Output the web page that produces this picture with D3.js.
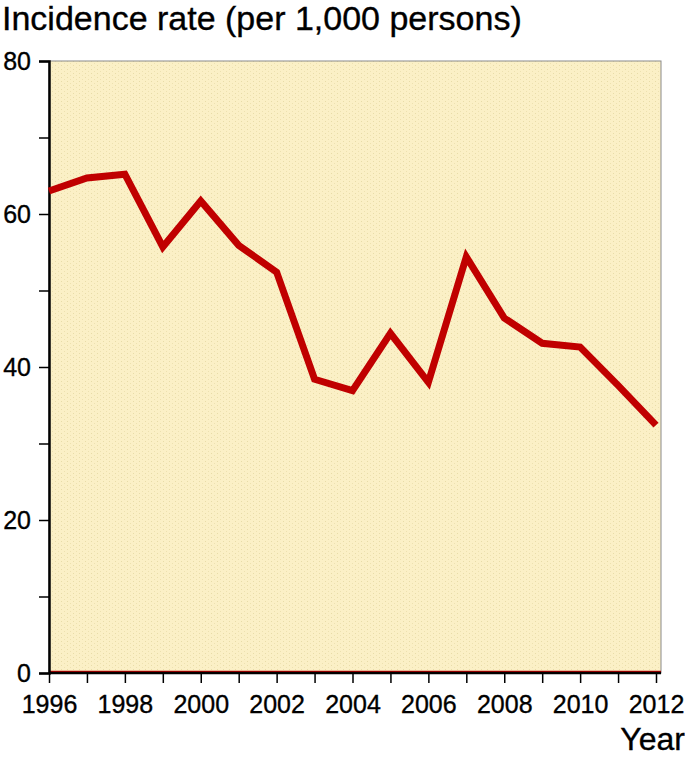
<!DOCTYPE html>
<html>
<head>
<meta charset="utf-8">
<script src="https://cdn.jsdelivr.net/npm/d3@7"></script>
<style>
  body { margin: 0; background: #fff; }
  svg text { font-family: "Liberation Sans", Arial, Helvetica, sans-serif; fill: #000; stroke: #000; stroke-width: 0.35px; }
  .axis path, .axis line { stroke: #000; }
</style>
</head>
<body>
<div id="chart"></div>
<script>
var years = [1996, 1997, 1998, 1999, 2000, 2001, 2002, 2003, 2004, 2005, 2006, 2007, 2008, 2009, 2010, 2011, 2012]
var rates = [63.0, 64.7, 65.2, 55.7, 61.7, 55.9, 52.4, 38.4, 36.9, 44.4, 38.0, 54.4, 46.4, 43.1, 42.6, 37.6, 32.4]
var yMajor = [0, 20, 40, 60, 80]
var yMinor = [10, 30, 50, 70]
var xLabels = [1996, 1998, 2000, 2002, 2004, 2006, 2008, 2010, 2012]

var width = 685, height = 760
var plotLeft = 49, plotTop = 61, plotRight = 661, plotBottom = 673

var svg = d3.select("#chart").append("svg")
  .attr("width", width)
  .attr("height", height)

var x = d3.scaleLinear().domain([1996, 2012]).range([plotLeft, 656])
var y = d3.scaleLinear().domain([0, 80]).range([plotBottom, plotTop])

// textured background
var defs = svg.append("defs")
var pat = defs.append("pattern")
  .attr("id", "grain")
  .attr("width", 6)
  .attr("height", 4)
  .attr("patternUnits", "userSpaceOnUse")
pat.append("rect").attr("width", 6).attr("height", 4).attr("fill", "#fbf0c6")
pat.append("rect").attr("x", 1).attr("y", 1).attr("width", 1).attr("height", 1).attr("fill", "#e8dca8")
pat.append("rect").attr("x", 4).attr("y", 3).attr("width", 1).attr("height", 1).attr("fill", "#ede1b0")

svg.append("rect")
  .attr("x", plotLeft)
  .attr("y", plotTop)
  .attr("width", plotRight - plotLeft)
  .attr("height", plotBottom - plotTop)
  .attr("fill", "url(#grain)")
  .attr("stroke", "#8a8a8a")
  .attr("stroke-width", 1)

// red baseline
svg.append("line")
  .attr("x1", plotLeft).attr("x2", plotRight)
  .attr("y1", plotBottom - 1.5).attr("y2", plotBottom - 1.5)
  .attr("stroke", "#c00000").attr("stroke-width", 1.5)

// y axis
var yAxis = svg.append("g")
  .attr("class", "axis")
  .attr("transform", "translate(" + plotLeft + ",0)")
  .call(d3.axisLeft(y).tickValues(yMajor).tickSize(10).tickPadding(8).tickFormat(d3.format("d")))
yAxis.select(".domain").attr("stroke-width", 2.5)
yAxis.selectAll(".tick line").attr("stroke-width", 1.5)
yAxis.selectAll("text").attr("font-size", 25)
svg.append("g")
  .attr("class", "axis")
  .attr("transform", "translate(" + plotLeft + ",0)")
  .call(d3.axisLeft(y).tickValues(yMinor).tickSize(10).tickFormat(""))
  .call(function (g) { g.select(".domain").remove() })
  .selectAll(".tick line").attr("stroke-width", 1.5)

// x axis
var xAxis = svg.append("g")
  .attr("class", "axis")
  .attr("transform", "translate(0," + plotBottom + ")")
  .call(d3.axisBottom(x).tickValues(years).tickSize(10).tickPadding(12)
    .tickFormat(function (d) { return xLabels.indexOf(d) >= 0 ? d : "" }))
xAxis.select(".domain").attr("d", "M" + plotLeft + ",0H" + plotRight).attr("stroke-width", 2.5)
xAxis.selectAll(".tick line").attr("stroke-width", 1.5)
xAxis.selectAll("text").attr("font-size", 25)

// line
var line = d3.line()
  .x(function (d, i) { return x(years[i]) })
  .y(function (d) { return y(d) })

svg.append("path")
  .datum(rates)
  .attr("d", line)
  .attr("fill", "none")
  .attr("stroke", "#c00000")
  .attr("stroke-width", 7)
  .attr("stroke-linejoin", "miter")

// titles
svg.append("text")
  .attr("x", 2)
  .attr("y", 30)
  .attr("font-size", 34)
  .text("Incidence rate (per 1,000 persons)")

svg.append("text")
  .attr("x", 685)
  .attr("y", 750)
  .attr("text-anchor", "end")
  .attr("font-size", 32)
  .text("Year")
</script>
</body>
</html>
